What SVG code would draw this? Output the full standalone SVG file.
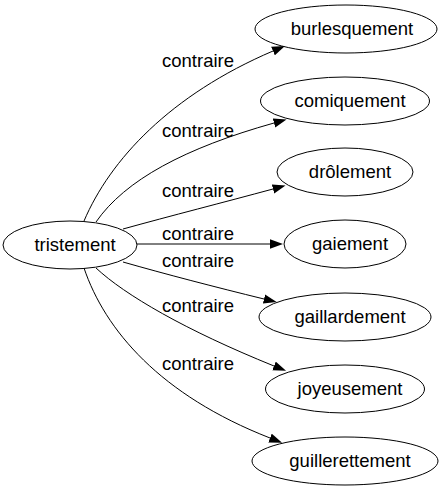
<svg xmlns="http://www.w3.org/2000/svg" width="443" height="491" viewBox="0 0 443 491">
<style>
.node ellipse{fill:none;stroke:#000;stroke-width:1}
text{font-family:"Liberation Sans",Arial,sans-serif;font-size:18.5px;fill:#000;text-anchor:middle}
.edges path{fill:none;stroke:#000;stroke-width:1}
</style>
<defs>
<marker id="arr" markerUnits="userSpaceOnUse" markerWidth="14" markerHeight="10" refX="0" refY="5" orient="auto">
<path d="M0,0.3 L13,5 L0,9.7 z" fill="#000"/>
</marker>
</defs>
<rect width="443" height="491" fill="#fff"/>
<g class="edges">
<path d="M84,221 C110,160 170,95 273,51" marker-end="url(#arr)"/>
<path d="M96,222 C125,180 185,148 274,123" marker-end="url(#arr)"/>
<path d="M123,229 C170,216 225,202 273,189" marker-end="url(#arr)"/>
<path d="M137,244 L270,244" marker-end="url(#arr)"/>
<path d="M123,262 C165,274 215,287 264,299" marker-end="url(#arr)"/>
<path d="M96,268 C125,295 185,330 274,366" marker-end="url(#arr)"/>
<path d="M84,268 C105,330 160,395 270,438" marker-end="url(#arr)"/>
<text x="198" y="67">contraire</text>
<text x="198" y="137">contraire</text>
<text x="198" y="197">contraire</text>
<text x="198" y="240">contraire</text>
<text x="198" y="267">contraire</text>
<text x="198" y="312">contraire</text>
<text x="198" y="370">contraire</text>
</g>
<g id="n-tristement" class="node"><ellipse cx="70" cy="245" rx="67" ry="24"/><text x="75" y="251">tristement</text></g>
<g id="n-burlesquement" class="node"><ellipse cx="346" cy="29" rx="91" ry="24"/><text x="352" y="35">burlesquement</text></g>
<g id="n-comiquement" class="node"><ellipse cx="345" cy="101" rx="84.5" ry="24"/><text x="350" y="107">comiquement</text></g>
<g id="n-drolement" class="node"><ellipse cx="345" cy="172" rx="68" ry="24"/><text x="350" y="178">drôlement</text></g>
<g id="n-gaiement" class="node"><ellipse cx="345" cy="244" rx="61" ry="24"/><text x="350" y="250">gaiement</text></g>
<g id="n-gaillardement" class="node"><ellipse cx="345" cy="317" rx="86" ry="24"/><text x="350" y="323">gaillardement</text></g>
<g id="n-joyeusement" class="node"><ellipse cx="345" cy="389" rx="79.5" ry="24"/><text x="350" y="395">joyeusement</text></g>
<g id="n-guillerettement" class="node"><ellipse cx="345" cy="461" rx="93" ry="24"/><text x="350" y="467">guillerettement</text></g>
</svg>
